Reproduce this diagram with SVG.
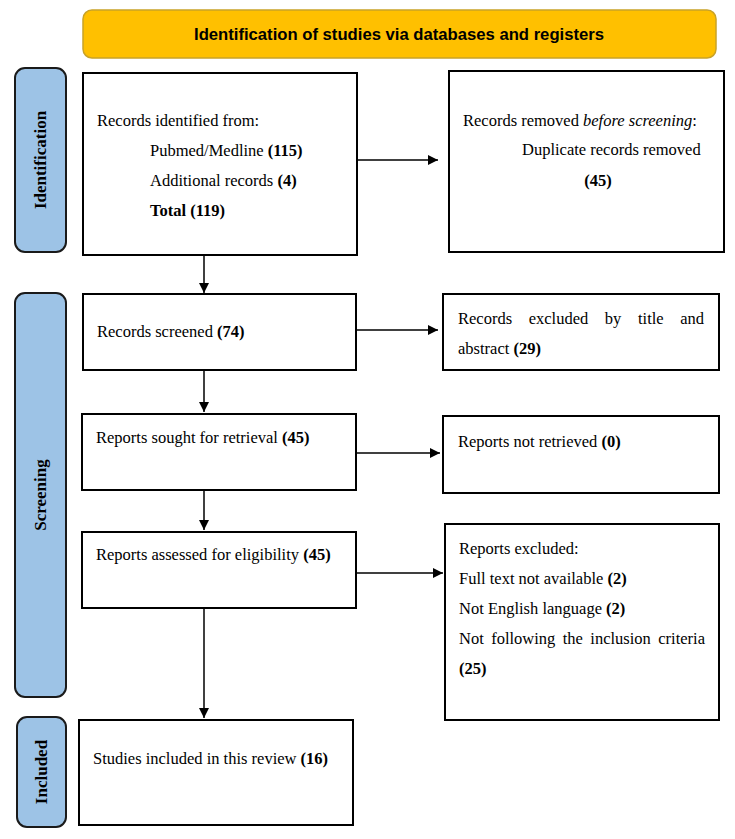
<svg xmlns="http://www.w3.org/2000/svg" width="735" height="839" viewBox="0 0 735 839">
<style>
.box{fill:#fff;stroke:#000;stroke-width:2}
.side{fill:#9DC3E6;stroke:#1a1a1a;stroke-width:2}
.t{font-family:"Liberation Serif","Times New Roman",serif;font-size:16.5px;fill:#000}
.b{font-weight:bold}
.st{font-family:"Liberation Serif","Times New Roman",serif;font-size:17px;font-weight:bold;fill:#000}
.con{stroke:#000;stroke-width:1.5;fill:none}
</style>
<defs>
<marker id="ah" markerWidth="10" markerHeight="10" refX="10" refY="5" orient="auto" markerUnits="userSpaceOnUse">
<path d="M0,0 L10,5 L0,10 Z" fill="#000"/>
</marker>
</defs>
<rect width="735" height="839" fill="#fff"/>
<g id="header">
<rect x="83" y="10" width="633" height="48" rx="9" fill="#FFC000" stroke="#C9A227" stroke-width="1.5"/>
<text x="399" y="40" text-anchor="middle" font-family="'Liberation Sans',Arial,sans-serif" font-size="16" font-weight="bold" textLength="410" lengthAdjust="spacingAndGlyphs">Identification of studies via databases and registers</text>
</g>
<g id="side-identification">
<rect class="side" x="15" y="68" width="51" height="184" rx="10"/>
<text class="st" transform="translate(46,160) rotate(-90)" text-anchor="middle">Identification</text>
</g>
<g id="side-screening">
<rect class="side" x="15" y="293" width="51" height="404" rx="10"/>
<text class="st" transform="translate(46,495) rotate(-90)" text-anchor="middle">Screening</text>
</g>
<g id="side-included">
<rect class="side" x="17" y="717" width="49" height="110" rx="10"/>
<text class="st" transform="translate(47,772) rotate(-90)" text-anchor="middle">Included</text>
</g>
<g id="records-identified">
<rect class="box" x="83" y="73" width="274" height="182"/>
<text class="t" x="97" y="126">Records identified from:</text>
<text class="t" x="150" y="156">Pubmed/Medline <tspan class="b">(115)</tspan></text>
<text class="t" x="150" y="186">Additional records <tspan class="b">(4)</tspan></text>
<text class="t b" x="150" y="216">Total (119)</text>
</g>
<g id="records-removed">
<rect class="box" x="449" y="71" width="275" height="181"/>
<text class="t" x="463" y="126">Records removed <tspan font-style="italic">before screening</tspan>:</text>
<text class="t" x="522" y="155">Duplicate records removed</text>
<text class="t b" x="598" y="186" text-anchor="middle">(45)</text>
</g>
<g id="records-screened">
<rect class="box" x="83" y="294" width="273" height="76"/>
<text class="t" x="97" y="337">Records screened <tspan class="b">(74)</tspan></text>
</g>
<g id="records-excluded">
<rect class="box" x="443" y="294" width="276" height="76"/>
<text class="t" x="458" y="324" word-spacing="12.5">Records excluded by title and</text>
<text class="t" x="458" y="354">abstract <tspan class="b">(29)</tspan></text>
</g>
<g id="reports-sought">
<rect class="box" x="82" y="414" width="274" height="76"/>
<text class="t" x="96" y="443">Reports sought for retrieval <tspan class="b">(45)</tspan></text>
</g>
<g id="reports-not-retrieved">
<rect class="box" x="443" y="416" width="276" height="77"/>
<text class="t" x="458" y="447">Reports not retrieved <tspan class="b">(0)</tspan></text>
</g>
<g id="reports-assessed">
<rect class="box" x="82" y="532" width="274" height="76"/>
<text class="t" x="96" y="560">Reports assessed for eligibility <tspan class="b">(45)</tspan></text>
</g>
<g id="reports-excluded">
<rect class="box" x="445" y="524" width="274" height="196"/>
<text class="t" x="459" y="554">Reports excluded:</text>
<text class="t" x="459" y="584">Full text not available <tspan class="b">(2)</tspan></text>
<text class="t" x="459" y="614">Not English language <tspan class="b">(2)</tspan></text>
<text class="t" x="459" y="644" word-spacing="3.3">Not following the inclusion criteria</text>
<text class="t b" x="459" y="674">(25)</text>
</g>
<g id="studies-included">
<rect class="box" x="79" y="720" width="274" height="105"/>
<text class="t" x="93" y="764">Studies included in this review <tspan class="b">(16)</tspan></text>
</g>
<g id="connectors">
<line class="con" x1="357" y1="160" x2="438" y2="160" marker-end="url(#ah)"/>
<line class="con" x1="204" y1="255" x2="204" y2="293" marker-end="url(#ah)"/>
<line class="con" x1="356" y1="330" x2="438" y2="330" marker-end="url(#ah)"/>
<line class="con" x1="204" y1="370" x2="204" y2="412" marker-end="url(#ah)"/>
<line class="con" x1="356" y1="453" x2="440" y2="453" marker-end="url(#ah)"/>
<line class="con" x1="204" y1="490" x2="204" y2="530" marker-end="url(#ah)"/>
<line class="con" x1="356" y1="573" x2="443" y2="573" marker-end="url(#ah)"/>
<line class="con" x1="204" y1="608" x2="204" y2="718" marker-end="url(#ah)"/>
</g>
</svg>
